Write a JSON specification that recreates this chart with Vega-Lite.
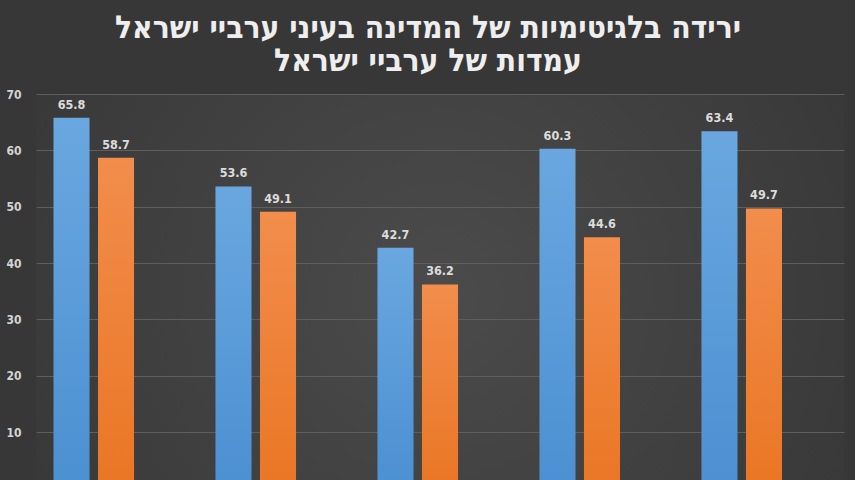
{
  "$schema": "https://vega.github.io/schema/vega-lite/v6.json",
  "autosize": {"type": "none"},
  "padding": {"left": 36, "top": 94, "right": 11, "bottom": 0},
  "width": 808,
  "height": 394.5,
  "background": "#373737",
  "title": {
    "text": ["ירידה בלגיטימיות של המדינה בעיני ערביי ישראל", "עמדות של ערביי ישראל"],
    "font": "DejaVu Sans Condensed",
    "fontWeight": "bold",
    "fontSize": 31.5,
    "lineHeight": 33,
    "color": "#eeeeee",
    "anchor": "middle",
    "dx": -12,
    "offset": 11
  },
  "data": {
    "values": [
      {"group": "1", "series": "a", "value": 65.8},
      {"group": "1", "series": "b", "value": 58.7},
      {"group": "2", "series": "a", "value": 53.6},
      {"group": "2", "series": "b", "value": 49.1},
      {"group": "3", "series": "a", "value": 42.7},
      {"group": "3", "series": "b", "value": 36.2},
      {"group": "4", "series": "a", "value": 60.3},
      {"group": "4", "series": "b", "value": 44.6},
      {"group": "5", "series": "a", "value": 63.4},
      {"group": "5", "series": "b", "value": 49.7}
    ]
  },
  "encoding": {
    "x": {
      "field": "group",
      "type": "nominal",
      "axis": null,
      "scale": {"paddingInner": 0.228, "paddingOuter": 0.108}
    },
    "xOffset": {
      "field": "series",
      "type": "nominal",
      "scale": {"domain": ["a", "b", "c"], "paddingInner": 0.19, "paddingOuter": 0}
    },
    "y": {
      "field": "value",
      "type": "quantitative",
      "scale": {"domain": [0, 70], "nice": false},
      "axis": {
        "title": null,
        "values": [10, 20, 30, 40, 50, 60, 70],
        "domain": false,
        "ticks": false,
        "labelPadding": 15,
        "labelColor": "#d4d4d4",
        "labelFont": "DejaVu Sans Condensed",
        "labelFontWeight": "bold",
        "labelFontSize": 12,
        "gridColor": "#5e5e5e",
        "gridWidth": 1
      }
    }
  },
  "layer": [
    {
      "transform": [{"filter": "datum.series === 'a'"}],
      "mark": {
        "type": "bar",
        "fill": {
          "gradient": "linear", "x1": 0, "y1": 0, "x2": 0, "y2": 1,
          "stops": [{"offset": 0, "color": "#6aa7e0"}, {"offset": 1, "color": "#4b90d2"}]
        }
      }
    },
    {
      "transform": [{"filter": "datum.series === 'b'"}],
      "mark": {
        "type": "bar",
        "fill": {
          "gradient": "linear", "x1": 0, "y1": 0, "x2": 0, "y2": 1,
          "stops": [{"offset": 0, "color": "#f28d4c"}, {"offset": 1, "color": "#ea7624"}]
        }
      }
    },
    {
      "mark": {
        "type": "text",
        "baseline": "alphabetic",
        "dy": -9,
        "font": "DejaVu Sans Condensed",
        "fontWeight": "bold",
        "fontSize": 12.5,
        "color": "#dcdcdc"
      },
      "encoding": {
        "text": {"field": "value", "type": "quantitative", "format": ".1f"}
      }
    }
  ],
  "config": {
    "view": {
      "stroke": null,
      "fill": {
        "gradient": "radial", "x1": 0.5, "y1": 0.5, "r1": 0, "x2": 0.5, "y2": 0.5, "r2": 0.7,
        "stops": [{"offset": 0, "color": "#4b4b4b"}, {"offset": 1, "color": "#343434"}]
      }
    }
  }
}
